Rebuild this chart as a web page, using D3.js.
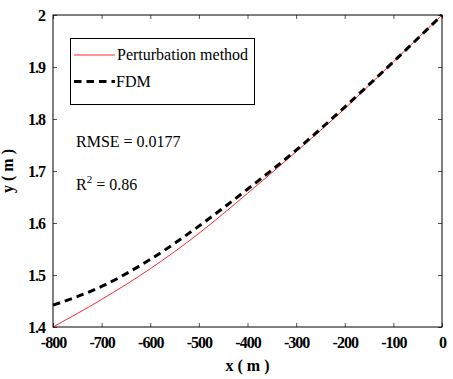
<!DOCTYPE html>
<html>
<head>
<meta charset="utf-8">
<script src="https://cdn.jsdelivr.net/npm/d3@7"></script>
<style>
  body { margin: 0; background: #fff; }
  svg text { font-family: "Liberation Serif", "Times New Roman", serif; }
</style>
</head>
<body>
<script>
const w = 453;
const h = 379;
const margin = {left: 53, right: 11, top: 15, bottom: 52};

// values
const xValues = [-800, -700, -600, -500, -400, -300, -200, -100, 0];
const perturbation = [1.400, 1.453, 1.512, 1.580, 1.657, 1.737, 1.820, 1.910, 2.000];
const fdm = [1.442, 1.478, 1.530, 1.594, 1.665, 1.740, 1.823, 1.910, 2.000];
const xTicks = [-800, -700, -600, -500, -400, -300, -200, -100, 0];
const yTicks = [1.4, 1.5, 1.6, 1.7, 1.8, 1.9, 2];

const svg = d3.select("body")
  .append("svg")
  .attr("width", w)
  .attr("height", h);

svg.append("rect").attr("width", w).attr("height", h).attr("fill", "#fff");

const xScale = d3.scaleLinear()
  .domain([-800, 0])
  .range([margin.left, w - margin.right]);

const yScale = d3.scaleLinear()
  .domain([1.4, 2])
  .range([h - margin.bottom, margin.top]);

const innerW = w - margin.left - margin.right;
const innerH = h - margin.top - margin.bottom;

// axes: bottom + left with labels, top + right ticks only (inward)
svg.append("g")
  .attr("transform", "translate(0," + (h - margin.bottom) + ")")
  .call(d3.axisBottom(xScale).tickValues(xTicks).tickSize(-4).tickPadding(10).tickFormat(d => String(d)))
  .call(g => g.select(".domain").remove());

svg.append("g")
  .attr("transform", "translate(" + margin.left + ",0)")
  .call(d3.axisLeft(yScale).tickValues(yTicks).tickSize(-4).tickPadding(8).tickFormat(d => d === 2 ? "2" : d3.format(".1f")(d)))
  .call(g => g.select(".domain").remove());

svg.append("g")
  .attr("transform", "translate(0," + margin.top + ")")
  .call(d3.axisTop(xScale).tickValues(xTicks).tickSize(-4).tickFormat(""))
  .call(g => g.select(".domain").remove());

svg.append("g")
  .attr("transform", "translate(" + (w - margin.right) + ",0)")
  .call(d3.axisRight(yScale).tickValues(yTicks).tickSize(-4).tickFormat(""))
  .call(g => g.select(".domain").remove());

svg.selectAll("g").attr("font-family", null).attr("font-size", null);
svg.selectAll(".tick line").attr("stroke", "#555");
svg.selectAll(".tick text")
  .attr("fill", "#000")
  .style("font-family", "Liberation Serif")
  .style("font-size", "16px")
  .style("font-weight", "bold")
  .attr("letter-spacing", "-1");

// lines
const line = (vals) => d3.line()
  .x((d, i) => xScale(xValues[i]))
  .y(d => yScale(d))
  .curve(d3.curveMonotoneX)(vals);

svg.append("path")
  .attr("d", line(perturbation))
  .attr("fill", "none")
  .attr("stroke", "#ff2a2a")
  .attr("stroke-width", 1);

svg.append("path")
  .attr("d", line(fdm))
  .attr("fill", "none")
  .attr("stroke", "#000")
  .attr("stroke-width", 3)
  .attr("stroke-dasharray", "7.5,5");

// box
svg.append("rect")
  .attr("x", margin.left)
  .attr("y", margin.top)
  .attr("width", innerW)
  .attr("height", innerH)
  .attr("fill", "none")
  .attr("stroke", "#000")
  .attr("stroke-width", 1);

// legend
const legend = svg.append("g");
legend.append("rect")
  .attr("x", 70.5).attr("y", 38.5)
  .attr("width", 184).attr("height", 66)
  .attr("fill", "#fff").attr("stroke", "#000").attr("stroke-width", 1);
legend.append("line")
  .attr("x1", 74).attr("x2", 115).attr("y1", 55).attr("y2", 55)
  .attr("stroke", "#ff2a2a").attr("stroke-width", 1);
legend.append("text")
  .attr("x", 117).attr("y", 60)
  .style("font-size", "16px")
  .text("Perturbation method");
legend.append("line")
  .attr("x1", 74).attr("x2", 115).attr("y1", 81.5).attr("y2", 81.5)
  .attr("stroke", "#000").attr("stroke-width", 3)
  .attr("stroke-dasharray", "7.5,5");
legend.append("text")
  .attr("x", 116).attr("y", 87)
  .style("font-size", "16px")
  .text("FDM");

// annotations
svg.append("text")
  .attr("x", 76).attr("y", 147)
  .style("font-size", "16px")
  .text("RMSE = 0.0177");

const r2 = svg.append("text")
  .attr("x", 76).attr("y", 190)
  .style("font-size", "16px");
r2.append("tspan").text("R");
r2.append("tspan").attr("dy", -7).style("font-size", "11px").text("2");
r2.append("tspan").attr("dy", 7).text(" = 0.86");

// axis titles
svg.append("text")
  .attr("x", xScale(-400))
  .attr("y", 371)
  .attr("text-anchor", "middle")
  .style("font-size", "16px")
  .style("font-weight", "bold")
  .text("x ( m )");

svg.append("text")
  .attr("transform", "translate(13," + yScale(1.7) + ") rotate(-90)")
  .attr("text-anchor", "middle")
  .style("font-size", "16px")
  .style("font-weight", "bold")
  .text("y ( m )");
</script>
</body>
</html>
